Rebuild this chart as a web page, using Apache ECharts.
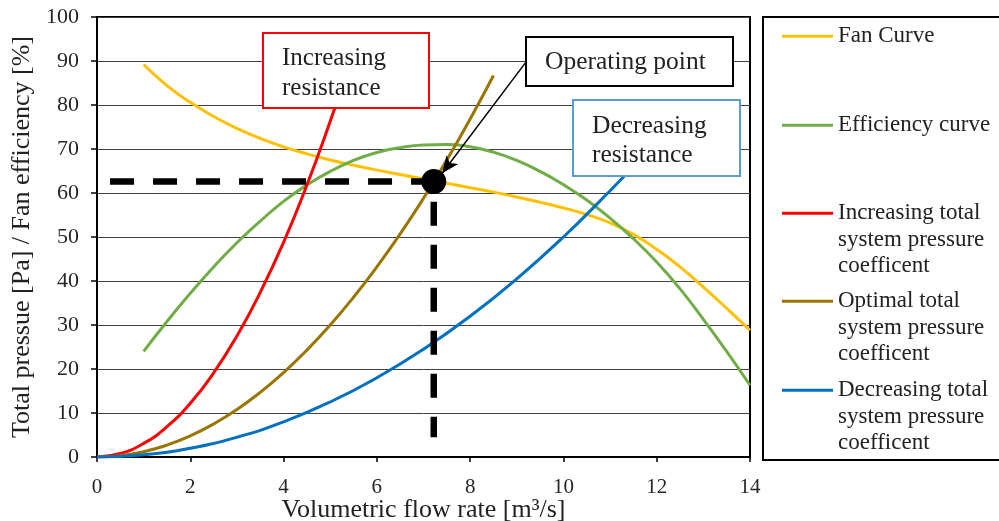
<!DOCTYPE html>
<html>
<head>
<meta charset="utf-8">
<script src="https://cdn.jsdelivr.net/npm/echarts@6/dist/echarts.min.js"></script>
<style>html,body{margin:0;padding:0;background:#fff;}#c{width:999px;height:521px;}</style>
</head>
<body>
<div id="c"></div>
<script>
// ---- data ----
var fanX   = [1,1.5,2,2.5,3,3.5,4,4.5,5,5.5,6,6.5,7,7.5,8,8.5,9,9.5,10,10.5,11,11.5,12,12.5,13,13.5,14];
var fanY   = [89.2,84.4,80.6,77.4,74.7,72.4,70.5,68.9,67.5,66.3,65.2,64.2,63.2,62.2,61.2,60.2,59.1,57.9,56.6,55.1,53.2,50.6,47.2,43.2,38.6,33.8,28.8];
var effX   = [1,1.5,2,2.5,3,3.5,4,4.5,5,5.5,6,6.5,7,7.5,8,8.5,9,9.5,10,10.5,11,11.5,12,12.5,13,13.5,14];
var effY   = [24,30.8,37.2,43.2,48.7,53.6,58.1,61.8,64.9,67.4,69.2,70.3,70.9,71.0,70.5,69.3,67.4,64.9,61.9,58.4,54.3,49.6,44.3,38.2,31.3,24.0,16.3];
var incX   = [0,0.5,1,1.5,2,2.5,3,3.5,4,4.5,5,5.3];
var incY   = [0,0.8,3.1,6.9,12.2,19.1,27.5,37.4,48.8,61.8,76.3,85.7];
var optX   = [0,0.5,1,1.5,2,2.5,3,3.5,4,4.5,5,5.5,6,6.5,7,7.5,8,8.5];
var optY   = [0,0.3,1.2,2.7,4.8,7.5,10.8,14.7,19.2,24.3,30,36.3,43.2,50.7,58.8,67.5,76.8,86.7];
var decX   = [0,1,2,3,4,5,6,7,8,9,10,11,11.5];
var decY   = [0,0.5,2,4.5,8,12.5,18,24.5,32,40.5,50,60.5,66];
var opPoint = [7.22, 62.6];
var guideX = [0.28, 7.22, 7.22];
var guideY = [62.6, 62.6, 4.5];
var arrowFrom = [9.2, 89.8];
var arrowTo   = [7.4, 64.5];
var seriesNames = ['Fan Curve','Efficiency curve','Increasing total\nsystem pressure\ncoefficent','Optimal total\nsystem pressure\ncoefficent','Decreasing total\nsystem pressure\ncoefficent'];
var xTitle = 'Volumetric flow rate [m³/s]';
var yTitle = 'Total pressue [Pa] / Fan efficiency [%]';

function zip(xs, ys){ return xs.map(function(x,i){ return [x, ys[i]]; }); }

var FONT = "'Liberation Serif','Times New Roman',serif";
var colors = ['#FFC000','#70AD47','#FF0000','#9A7500','#0070C0'];
var legendIconY = [36,125,213,301,390];

var legends = seriesNames.map(function(n,i){
  var multi = n.indexOf('\n') >= 0;
  return {
    data:[n], left:782, top: legendIconY[i] - (multi ? 66 : 13), padding:0,
    icon:'rect', itemWidth:51, itemHeight:3, itemGap:0,
    formatter: function(name){ return multi ? '\n\n' + name : name; },
    textStyle:{fontFamily:FONT, fontSize:23, lineHeight:26.5, color:'#222'}
  };
});

var series = [
  {name:seriesNames[0], data:zip(fanX,fanY)},
  {name:seriesNames[1], data:zip(effX,effY)},
  {name:seriesNames[2], data:zip(incX,incY)},
  {name:seriesNames[3], data:zip(optX,optY)},
  {name:seriesNames[4], data:zip(decX,decY)}
].map(function(s,i){
  return {name:s.name, type:'line', data:s.data, smooth:true, showSymbol:false, symbol:'none',
    color:colors[i], lineStyle:{color:colors[i], width:3}, z:3};
});

series.push({
  name:'guide', type:'line', data:zip(guideX,guideY), symbol:'none', silent:true, z:4,
  lineStyle:{color:'#000', width:6.5, type:[24,19], cap:'butt'}
});
series.push({
  name:'op', type:'scatter', data:[opPoint], symbol:'circle', symbolSize:25, z:5,
  itemStyle:{color:'#000', opacity:1}, silent:true,
  markLine:{silent:true, symbol:['none','arrow'], symbolSize:[11,17], label:{show:false},
    lineStyle:{color:'#000', width:1.5, type:'solid'},
    data:[[{coord:arrowFrom},{coord:arrowTo}]]}
});

var chart = echarts.init(document.getElementById('c'));
chart.setOption({
  animation:false,
  backgroundColor:'#fff',
  grid:{left:97, right:249, top:17, bottom:64, show:true, borderColor:'#000', borderWidth:2,
        containLabel:false, outerBoundsMode:'none'},
  legend: legends,
  xAxis:{type:'value', min:0, max:14, interval:2,
    name:xTitle, nameLocation:'middle', nameGap:40, nameMoveOverlap:false,
    nameTextStyle:{fontFamily:FONT, fontSize:26, color:'#222'},
    axisLine:{show:true, lineStyle:{color:'#000', width:2}},
    axisTick:{show:true, inside:false, length:5, lineStyle:{color:'#000', width:1.5}},
    axisLabel:{fontFamily:FONT, fontSize:21, color:'#262626', margin:20},
    splitLine:{show:false}},
  yAxis:{type:'value', min:0, max:100, interval:10,
    name:yTitle, nameLocation:'middle', nameGap:62,
    nameTextStyle:{fontFamily:FONT, fontSize:26, color:'#222'},
    axisLine:{show:true, lineStyle:{color:'#000', width:2}},
    axisTick:{show:true, inside:false, length:6, lineStyle:{color:'#000', width:1.5}},
    axisLabel:{fontFamily:FONT, fontSize:22, color:'#262626', margin:18},
    splitLine:{show:true, lineStyle:{color:'#404040', width:1}}},
  series: series,
  graphic:[
    {type:'rect', z:100, shape:{x:763, y:17, width:240, height:443}, style:{fill:'none', stroke:'#000', lineWidth:2}},
    {type:'rect', z:100, shape:{x:263, y:33, width:166, height:75}, style:{fill:'#fff', stroke:'#FF0000', lineWidth:2}},
    {type:'text', z:101, x:282, y:73, style:{text:'Increasing\nresistance', font:'25px ' + FONT, fill:'#222', lineHeight:30, verticalAlign:'middle', align:'left'}},
    {type:'rect', z:100, shape:{x:526, y:37, width:207, height:49}, style:{fill:'#fff', stroke:'#000', lineWidth:2}},
    {type:'text', z:101, x:545, y:62, style:{text:'Operating point', font:'25.5px ' + FONT, fill:'#222', verticalAlign:'middle', align:'left'}},
    {type:'rect', z:100, shape:{x:573, y:100, width:167, height:76}, style:{fill:'#fff', stroke:'#5B9BD5', lineWidth:2}},
    {type:'text', z:101, x:592, y:141, style:{text:'Decreasing\nresistance', font:'25.5px ' + FONT, fill:'#222', lineHeight:29, verticalAlign:'middle', align:'left'}}
  ]
});
</script>
</body>
</html>
